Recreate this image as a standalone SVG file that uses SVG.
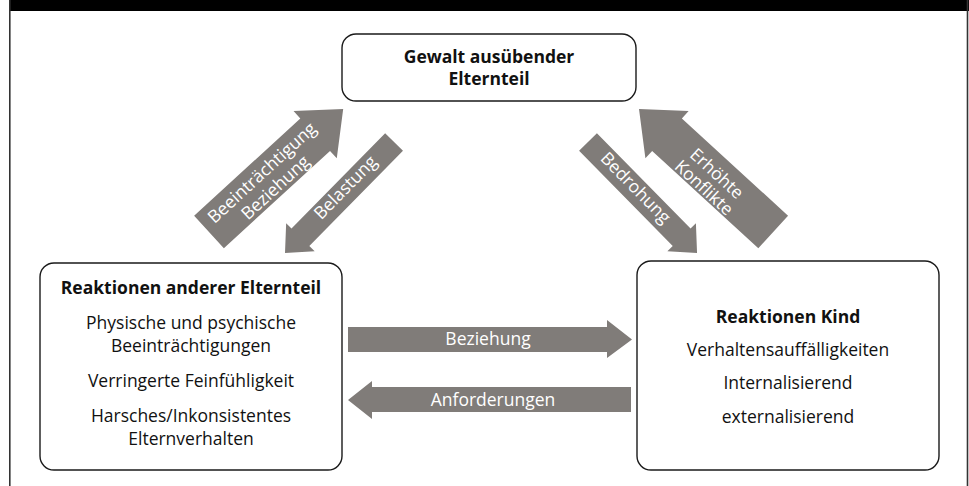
<svg xmlns="http://www.w3.org/2000/svg" width="969" height="486" viewBox="0 0 969 486">
<style>
.box{fill:#fff;stroke:#1a1a1a;stroke-width:1.4}
.t{font-family:"Open Sans","Noto Sans","Liberation Sans",sans-serif;font-size:17.5px;fill:#111;text-anchor:middle}
.b{font-weight:bold}
.arr{fill:#807c79}
.at{font-family:"Open Sans","Noto Sans","Liberation Sans",sans-serif;font-size:17.5px;fill:#fff;text-anchor:middle}
.frame{stroke:#333;stroke-width:1.6;fill:none}
</style>
<rect width="969" height="486" fill="#fff"/>
<g id="frame">
<rect x="9" y="0" width="960" height="11" fill="#000"/>
<line class="frame" x1="9.8" y1="0" x2="9.8" y2="486"/>
<line class="frame" x1="967.5" y1="0" x2="967.5" y2="486"/>
</g>
<g id="connectors">
<g id="c-beeintraechtigung" transform="translate(209,232) rotate(-42.5)">
<path class="arr" d="M0,-22 L144,-22 L144,-32 L182,0 L144,32 L144,22 L0,22 Z"/>
<text class="at" x="79" y="-2">Beeinträchtigung</text>
<text class="at" x="79" y="18">Beziehung</text>
</g>
<g id="c-belastung" transform="translate(285,253) rotate(-45.5)">
<path class="arr" d="M0,0 L22,-20 L22,-12.5 L155.6,-12.5 L155.6,12.5 L22,12.5 L22,20 Z"/>
<text class="at" x="89" y="3">Belastung</text>
</g>
<g id="c-bedrohung" transform="translate(588,142) rotate(45.5)">
<path class="arr" d="M0,-12.5 L133.6,-12.5 L133.6,-20 L155.6,0 L133.6,20 L133.6,12.5 L0,12.5 Z"/>
<text class="at" x="66" y="4">Bedrohung</text>
</g>
<g id="c-konflikte" transform="translate(639,109) rotate(42.5)">
<path class="arr" d="M0,0 L38,-32 L38,-22 L182,-22 L182,22 L38,22 L38,32 Z"/>
<text class="at" x="101" y="1">Erhöhte</text>
<text class="at" x="101" y="20">Konflikte</text>
</g>
<g id="c-beziehung">
<path class="arr" d="M348,327 L607,327 L607,320 L632,339.5 L607,358 L607,352 L348,352 Z"/>
<text class="at" x="488" y="345">Beziehung</text>
</g>
<g id="c-anforderungen">
<path class="arr" d="M631,387 L372,387 L372,381 L348,400 L372,419 L372,412 L631,412 Z"/>
<text class="at" x="493" y="406">Anforderungen</text>
</g>
</g>
<g id="node-gewalt">
<rect class="box" x="342" y="34" width="294" height="67" rx="14"/>
<text class="t b" x="489" y="63">Gewalt ausübender</text>
<text class="t b" x="489" y="85">Elternteil</text>
</g>
<g id="node-anderer">
<rect class="box" x="40" y="263" width="302" height="207" rx="14"/>
<text class="t b" x="191" y="294">Reaktionen anderer Elternteil</text>
<text class="t" x="191" y="329">Physische und psychische</text>
<text class="t" x="191" y="352">Beeinträchtigungen</text>
<text class="t" x="191" y="387">Verringerte Feinfühligkeit</text>
<text class="t" x="191" y="422">Harsches/Inkonsistentes</text>
<text class="t" x="191" y="445">Elternverhalten</text>
</g>
<g id="node-kind">
<rect class="box" x="637" y="261" width="302" height="209" rx="14"/>
<text class="t b" x="788" y="323">Reaktionen Kind</text>
<text class="t" x="788" y="356">Verhaltensauffälligkeiten</text>
<text class="t" x="788" y="389">Internalisierend</text>
<text class="t" x="788" y="423">externalisierend</text>
</g>
</svg>
